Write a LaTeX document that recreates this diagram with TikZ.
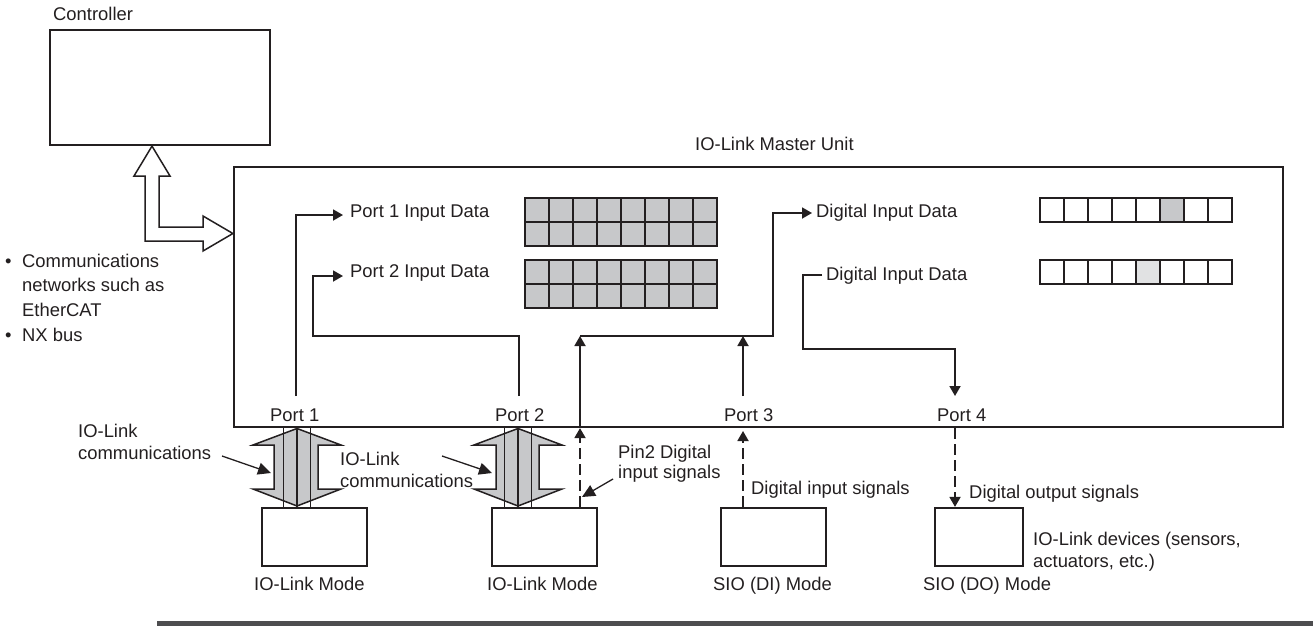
\documentclass[tikz,border=0pt]{standalone}
\usepackage{fontspec}
\setmainfont{Liberation Sans}
\usetikzlibrary{arrows.meta,calc}
\definecolor{ink}{HTML}{231F20}
\definecolor{cellgray}{HTML}{C7C8CA}
\definecolor{celllight}{HTML}{E1E2E3}
\definecolor{barcol}{HTML}{4D4D4F}
\tikzset{
  lab/.style={anchor=base west,inner sep=0pt,text=ink,font=\fontsize{18.4}{22}\selectfont},
  box/.style={draw=ink,line width=2.2pt,fill=white,inner sep=0pt,minimum width=#1},
  devbox/.style={box=#1,minimum height=58pt},
  wire/.style={draw=ink,line width=1.8pt},
  dashwire/.style={draw=ink,line width=1.8pt,dash pattern=on 11pt off 5pt},
  tip/.style={-{Triangle[length=10pt,width=11pt,color=ink]}},
  thin tip/.style={draw=ink,line width=1.3pt,-{Triangle[length=13pt,width=12pt,color=ink]}},
  cell/.style={draw=ink,line width=2.2pt,inner sep=0pt,minimum width=24pt,minimum height=24pt},
  hollow/.style={draw=ink,line width=1.5pt,fill=white,line join=miter},
  solidarrow/.style={draw=ink,line width=1.5pt,fill=cellgray,line join=miter},
}
\newcommand{\bul}{\makebox[17pt][l]{•}}
\begin{document}
\begin{tikzpicture}[x=1pt,y=-1pt]
\useasboundingbox (0,0) rectangle (1313,626);
% main boxes
\node[box=220pt,minimum height=115pt] (ctrl) at (160,87.5) {};
\node[box=1049pt,minimum height=260pt] (master) at (758.5,297) {};
% devices
\node[devbox=105pt] (dev1) at (314.5,537) {};
\node[devbox=105pt] (dev2) at (544.5,537) {};
\node[devbox=105pt] (dev3) at (773.5,537) {};
\node[devbox=88pt] (dev4) at (979,537) {};
% network arrow
\draw[hollow] (ctrl.south -| 152,0) -- (170,176) -- (159,176) -- (159,227) -- (203,227) -- (203,216) -- (master.west |- 0,233.5) -- (203,251) -- (203,241) -- (145,241) -- (145,176) -- (134,176) -- cycle;
% comm arrows
\draw[solidarrow] (297,428.5) -- (341,445) -- (318,445) -- (318,489) -- (341,489) -- (297,506) -- (253,489) -- (274,489) -- (274,445) -- (253,445) -- cycle;
\draw[solidarrow] (518,428.5) -- (562,445) -- (539,445) -- (539,489) -- (562,489) -- (518,506) -- (474,489) -- (496,489) -- (496,445) -- (474,445) -- cycle;
\foreach \cx in {283.5,297,310.5,504.5,518,531.5}
  \draw[draw=ink,line width=1.3pt] (\cx,428) -- (\cx,507);
% data grids
\foreach \r/\yy in {a/210,b/234,c/272,d/296}
  \foreach \c in {0,...,7}
    \node[cell,fill=cellgray] (g\r\c) at (537+24*\c,\yy) {};
\foreach \c in {0,...,7}{
  \ifnum\c=5 \node[cell,fill=cellgray] (r1\c) at (1052+24*\c,210) {};
  \else \node[cell,fill=white] (r1\c) at (1052+24*\c,210) {}; \fi
  \ifnum\c=4 \node[cell,fill=celllight] (r2\c) at (1052+24*\c,272) {};
  \else \node[cell,fill=white] (r2\c) at (1052+24*\c,272) {}; \fi
}
% labels
\node[lab] (tctrl) at (53,21) {Controller};
\node[lab] (tmaster) at (695,150) {IO-Link Master Unit};
\node[lab] (tp1i) at (350,217) {Port 1 Input Data};
\node[lab] (tp2i) at (350,277) {Port 2 Input Data};
\node[lab] (tdi1) at (816,217) {Digital Input Data};
\node[lab] (tdi2) at (826,280) {Digital Input Data};
\node[lab] (tport1) at (270,421) {Port 1};
\node[lab] (tport2) at (495,421) {Port 2};
\node[lab] (tport3) at (724,421) {Port 3};
\node[lab] (tport4) at (937,421) {Port 4};
\node[lab] (tb1) at (5,267) {\bul Communications};
\node[lab] (tb2) at (22,291) {networks such as};
\node[lab] (tb3) at (22,316) {EtherCAT};
\node[lab] (tb4) at (5,341) {\bul NX bus};
\node[lab] (tc1) at (78,437) {IO-Link};
\node[lab] (tc1b) at (78,459) {communications};
\node[lab] (tc2) at (340,465) {IO-Link};
\node[lab] (tc2b) at (340,487) {communications};
\node[lab] (tpin) at (618,458) {Pin2 Digital};
\node[lab] (tpinb) at (618,478) {input signals};
\node[lab] (tdis) at (751,494) {Digital input signals};
\node[lab] (tdos) at (969,498) {Digital output signals};
\node[lab] (tdev) at (1033,545) {IO-Link devices (sensors,};
\node[lab] (tdevb) at (1033,567) {actuators, etc.)};
\node[lab] (tm1) at (254,590) {IO-Link Mode};
\node[lab] (tm2) at (487,590) {IO-Link Mode};
\node[lab] (tm3) at (713,590) {SIO (DI) Mode};
\node[lab] (tm4) at (923,590) {SIO (DO) Mode};
% internal connectors
\coordinate (s1) at (296,396);
\coordinate (s2) at (519,396);
\coordinate (s3) at (743,396);
\coordinate (e1) at (343,215);
\coordinate (e2) at (343,276);
\coordinate (e3) at (812,213);
\coordinate (j2) at (580,336);
\coordinate (s4) at (822,275);
\coordinate (e4) at (955,396);
\draw[wire,tip] (s1) |- (e1);
\draw[wire,tip] (s2) -- (519,336) -- (313,336) |- (e2);
\draw[wire,tip] (j2) -- (773,336) |- (e3);
\draw[wire,tip] (j2 |- master.south) -- (j2);
\draw[wire,tip] (s3) -- (743,336);
\draw[wire,tip] (s4) -- (803,275) -- (803,349) -| (e4);
% external dashed connectors
\draw[dashwire,tip] (dev2.north -| j2) -- (j2 |- master.south);
\draw[dashwire,tip] (dev3.north -| s3) -- (743,431);
\draw[dashwire,tip] (955,428) -- (dev4.north -| e4);
% pointers
\coordinate (pa1) at (222,456);
\coordinate (pb1) at (271,473);
\coordinate (pa2) at (442,456);
\coordinate (pb2) at (492,473);
\coordinate (pa3) at (613,479);
\coordinate (pb3) at (582,497);
\draw[thin tip] (pa1) -- (pb1);
\draw[thin tip] (pa2) -- (pb2);
\draw[thin tip] (pa3) -- (pb3);
% bottom bar
\fill[barcol] (157,621) rectangle (1313,626);
\end{tikzpicture}
\end{document}
